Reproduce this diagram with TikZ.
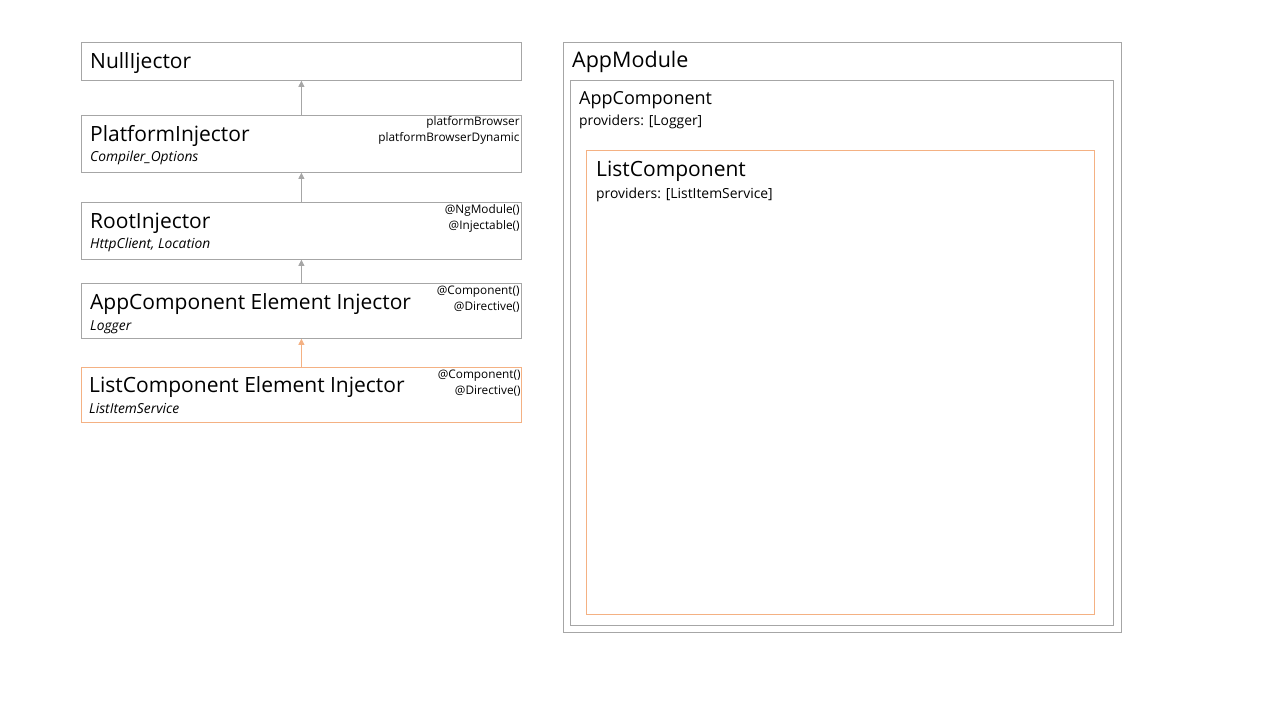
\documentclass[tikz,border=0pt]{standalone}
\usepackage{fontspec}
\setmainfont{Open Sans}
\usetikzlibrary{arrows.meta, positioning, calc}
\definecolor{boxgray}{HTML}{A6A6A6}
\definecolor{listorange}{HTML}{F4B183}
\tikzset{
  injbox/.style={draw=boxgray, line width=0.8pt, anchor=north west, minimum width=440pt, inner sep=0pt},
  listbox/.style={injbox, draw=listorange},
  titletxt/.style={anchor=base west, inner sep=0pt, font=\fontsize{21}{25}\selectfont},
  subtxt/.style={anchor=base west, inner sep=0pt, font=\fontsize{13.8}{16}\selectfont\itshape},
  tagtxt/.style={anchor=base east, inner sep=0pt, font=\fontsize{11.8}{14}\selectfont},
  provtxt/.style={anchor=base west, inner sep=0pt, font=\fontsize{13.9}{16}\selectfont},
  arr/.style={-{Triangle[length=6pt, width=6pt]}, line width=0.8pt, boxgray},
  orarr/.style={arr, listorange}
}

\begin{document}
\begin{tikzpicture}[x=1pt, y=-1pt]
\useasboundingbox (0,0) rectangle (1280,720);

% ===== INJECTOR CHAIN =====
\node[injbox, minimum height=38pt]  (NI) at (81, 42)  {};
\node[injbox, minimum height=57pt]  (PI) at (81, 115) {};
\node[injbox, minimum height=57pt]  (RI) at (81, 202) {};
\node[injbox, minimum height=55pt]  (AI) at (81, 283) {};
\node[listbox, minimum height=55pt] (LI) at (81, 367) {};

\node[titletxt] (NIt) at ($(NI.north west)+(9,26)$) {NullIjector};

\node[titletxt] (PIt) at ($(PI.north west)+(9,26)$) {PlatformInjector};
\node[subtxt]   (PIs) at ($(PI.north west)+(9,46)$) {Compiler\_Options};
\node[tagtxt]   (PIa) at ($(PI.north east)+(-2,10)$) {platformBrowser};
\node[tagtxt]   (PIb) at ($(PI.north east)+(-2,26)$) {platformBrowserDynamic};

\node[titletxt] (RIt) at ($(RI.north west)+(9,26)$) {RootInjector};
\node[subtxt]   (RIs) at ($(RI.north west)+(9,46)$) {HttpClient, Location};
\node[tagtxt]   (RIa) at ($(RI.north east)+(-2,11)$) {@NgModule()};
\node[tagtxt]   (RIb) at ($(RI.north east)+(-2,27)$) {@Injectable()};

\node[titletxt] (AIt) at ($(AI.north west)+(9,26)$) {AppComponent Element Injector};
\node[subtxt]   (AIs) at ($(AI.north west)+(9,47)$) {Logger};
\node[tagtxt]   (AIa) at ($(AI.north east)+(-2,11)$) {@Component()};
\node[tagtxt]   (AIb) at ($(AI.north east)+(-2,27)$) {@Directive()};

\node[titletxt] (LIt) at ($(LI.north west)+(8,25)$) {ListComponent Element Injector};
\node[subtxt]   (LIs) at ($(LI.north west)+(8,46)$) {ListItemService};
\node[tagtxt]   (LIa) at ($(LI.north east)+(-1,11)$) {@Component()};
\node[tagtxt]   (LIb) at ($(LI.north east)+(-1,27)$) {@Directive()};

\draw[arr]   (PI.north) -- (NI.south);
\draw[arr]   (RI.north) -- (PI.south);
\draw[arr]   (AI.north) -- (RI.south);
\draw[orarr] (LI.north) -- (AI.south);

% ===== COMPONENT TREE =====
\node[injbox, minimum width=558pt, minimum height=590pt]  (AM) at (563, 42)  {};
\node[injbox, minimum width=543pt, minimum height=545pt]  (AC) at (570, 80)  {};
\node[listbox, minimum width=508pt, minimum height=464pt] (LC) at (586, 150) {};

\node[titletxt, font=\fontsize{21.5}{25}\selectfont] (AMt) at ($(AM.north west)+(9,25)$) {AppModule};
\node[titletxt, font=\fontsize{18}{22}\selectfont]   (ACt) at ($(AC.north west)+(9,24)$) {AppComponent};
\node[provtxt]  (ACp) at ($(AC.north west)+(9,45)$) {providers: [Logger]};
\node[titletxt] (LCt) at ($(LC.north west)+(10,26)$) {ListComponent};
\node[provtxt]  (LCp) at ($(LC.north west)+(10,48)$) {providers: [ListItemService]};

\end{tikzpicture}
\end{document}
